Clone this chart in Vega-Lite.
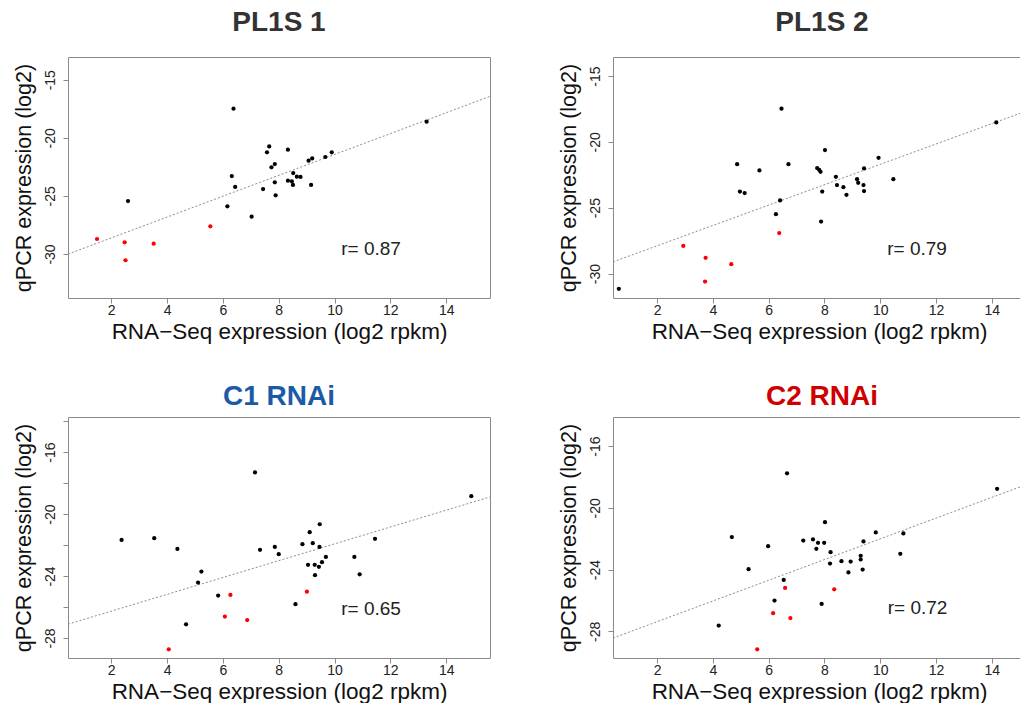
{
  "$schema": "https://vega.github.io/schema/vega-lite/v6.json",
  "background": "white",
  "padding": {"left": 12, "top": 8, "right": 0, "bottom": 0},
  "columns": 2,
  "spacing": {"row": 39, "column": 64},
  "datasets": {
    "p1": [
      {"x": 6.38, "y": -17.49, "type": "other"},
      {"x": 13.30, "y": -18.61, "type": "other"},
      {"x": 7.66, "y": -20.74, "type": "other"},
      {"x": 7.58, "y": -21.25, "type": "other"},
      {"x": 8.33, "y": -21.02, "type": "other"},
      {"x": 9.90, "y": -21.25, "type": "other"},
      {"x": 9.67, "y": -21.65, "type": "other"},
      {"x": 9.20, "y": -21.77, "type": "other"},
      {"x": 9.07, "y": -21.97, "type": "other"},
      {"x": 7.86, "y": -22.26, "type": "other"},
      {"x": 7.74, "y": -22.54, "type": "other"},
      {"x": 6.32, "y": -23.29, "type": "other"},
      {"x": 8.52, "y": -23.03, "type": "other"},
      {"x": 8.65, "y": -23.35, "type": "other"},
      {"x": 8.78, "y": -23.37, "type": "other"},
      {"x": 7.86, "y": -23.83, "type": "other"},
      {"x": 8.33, "y": -23.69, "type": "other"},
      {"x": 8.47, "y": -23.75, "type": "other"},
      {"x": 8.51, "y": -24.06, "type": "other"},
      {"x": 9.16, "y": -24.06, "type": "other"},
      {"x": 6.44, "y": -24.23, "type": "other"},
      {"x": 7.44, "y": -24.41, "type": "other"},
      {"x": 7.89, "y": -24.95, "type": "other"},
      {"x": 2.60, "y": -25.44, "type": "other"},
      {"x": 6.16, "y": -25.90, "type": "other"},
      {"x": 7.03, "y": -26.79, "type": "other"},
      {"x": 1.49, "y": -28.71, "type": "target"},
      {"x": 2.48, "y": -29.00, "type": "target"},
      {"x": 3.52, "y": -29.11, "type": "target"},
      {"x": 5.55, "y": -27.62, "type": "target"},
      {"x": 2.51, "y": -30.54, "type": "target"}
    ],
    "p2": [
      {"x": 0.63, "y": -31.16, "type": "other"},
      {"x": 6.46, "y": -17.48, "type": "other"},
      {"x": 14.16, "y": -18.52, "type": "other"},
      {"x": 8.02, "y": -20.62, "type": "other"},
      {"x": 9.94, "y": -21.21, "type": "other"},
      {"x": 4.87, "y": -21.69, "type": "other"},
      {"x": 6.71, "y": -21.69, "type": "other"},
      {"x": 5.67, "y": -22.17, "type": "other"},
      {"x": 7.74, "y": -21.99, "type": "other"},
      {"x": 7.81, "y": -22.12, "type": "other"},
      {"x": 7.86, "y": -22.27, "type": "other"},
      {"x": 9.42, "y": -22.02, "type": "other"},
      {"x": 8.41, "y": -22.65, "type": "other"},
      {"x": 9.17, "y": -22.83, "type": "other"},
      {"x": 9.21, "y": -23.11, "type": "other"},
      {"x": 10.47, "y": -22.83, "type": "other"},
      {"x": 8.45, "y": -23.28, "type": "other"},
      {"x": 8.68, "y": -23.44, "type": "other"},
      {"x": 9.40, "y": -23.28, "type": "other"},
      {"x": 9.42, "y": -23.74, "type": "other"},
      {"x": 4.97, "y": -23.77, "type": "other"},
      {"x": 5.14, "y": -23.89, "type": "other"},
      {"x": 7.92, "y": -23.77, "type": "other"},
      {"x": 8.79, "y": -24.02, "type": "other"},
      {"x": 6.41, "y": -24.45, "type": "other"},
      {"x": 6.26, "y": -25.49, "type": "other"},
      {"x": 7.88, "y": -26.05, "type": "other"},
      {"x": 2.94, "y": -27.90, "type": "target"},
      {"x": 3.74, "y": -28.81, "type": "target"},
      {"x": 3.72, "y": -30.61, "type": "target"},
      {"x": 4.66, "y": -29.29, "type": "target"},
      {"x": 6.38, "y": -26.93, "type": "target"}
    ],
    "p3": [
      {"x": 2.37, "y": -21.67, "type": "other"},
      {"x": 3.54, "y": -21.56, "type": "other"},
      {"x": 4.37, "y": -22.25, "type": "other"},
      {"x": 7.15, "y": -17.32, "type": "other"},
      {"x": 14.90, "y": -18.85, "type": "other"},
      {"x": 7.33, "y": -22.31, "type": "other"},
      {"x": 7.86, "y": -22.12, "type": "other"},
      {"x": 8.00, "y": -22.59, "type": "other"},
      {"x": 9.47, "y": -20.66, "type": "other"},
      {"x": 9.11, "y": -21.17, "type": "other"},
      {"x": 8.85, "y": -21.95, "type": "other"},
      {"x": 9.22, "y": -21.88, "type": "other"},
      {"x": 9.46, "y": -22.12, "type": "other"},
      {"x": 11.45, "y": -21.60, "type": "other"},
      {"x": 9.69, "y": -22.77, "type": "other"},
      {"x": 10.71, "y": -22.77, "type": "other"},
      {"x": 9.55, "y": -23.11, "type": "other"},
      {"x": 9.05, "y": -23.28, "type": "other"},
      {"x": 9.29, "y": -23.28, "type": "other"},
      {"x": 9.44, "y": -23.41, "type": "other"},
      {"x": 9.30, "y": -23.95, "type": "other"},
      {"x": 10.90, "y": -23.89, "type": "other"},
      {"x": 5.23, "y": -23.71, "type": "other"},
      {"x": 5.11, "y": -24.42, "type": "other"},
      {"x": 5.83, "y": -25.26, "type": "other"},
      {"x": 8.60, "y": -25.82, "type": "other"},
      {"x": 4.68, "y": -27.12, "type": "other"},
      {"x": 6.27, "y": -25.22, "type": "target"},
      {"x": 9.01, "y": -25.01, "type": "target"},
      {"x": 6.07, "y": -26.62, "type": "target"},
      {"x": 6.87, "y": -26.84, "type": "target"},
      {"x": 4.06, "y": -28.73, "type": "target"}
    ],
    "p4": [
      {"x": 6.66, "y": -17.77, "type": "other"},
      {"x": 14.19, "y": -18.77, "type": "other"},
      {"x": 8.02, "y": -20.93, "type": "other"},
      {"x": 4.68, "y": -21.90, "type": "other"},
      {"x": 9.84, "y": -21.60, "type": "other"},
      {"x": 10.83, "y": -21.66, "type": "other"},
      {"x": 7.24, "y": -22.12, "type": "other"},
      {"x": 7.59, "y": -22.05, "type": "other"},
      {"x": 7.77, "y": -22.27, "type": "other"},
      {"x": 7.99, "y": -22.27, "type": "other"},
      {"x": 5.98, "y": -22.49, "type": "other"},
      {"x": 7.71, "y": -22.66, "type": "other"},
      {"x": 8.22, "y": -22.88, "type": "other"},
      {"x": 9.40, "y": -22.18, "type": "other"},
      {"x": 10.72, "y": -22.98, "type": "other"},
      {"x": 9.30, "y": -23.11, "type": "other"},
      {"x": 9.30, "y": -23.35, "type": "other"},
      {"x": 8.61, "y": -23.46, "type": "other"},
      {"x": 8.94, "y": -23.48, "type": "other"},
      {"x": 8.20, "y": -23.61, "type": "other"},
      {"x": 5.28, "y": -23.98, "type": "other"},
      {"x": 9.37, "y": -24.00, "type": "other"},
      {"x": 8.86, "y": -24.19, "type": "other"},
      {"x": 6.54, "y": -24.67, "type": "other"},
      {"x": 6.21, "y": -26.01, "type": "other"},
      {"x": 7.90, "y": -26.23, "type": "other"},
      {"x": 4.21, "y": -27.63, "type": "other"},
      {"x": 6.59, "y": -25.19, "type": "target"},
      {"x": 8.35, "y": -25.28, "type": "target"},
      {"x": 6.16, "y": -26.83, "type": "target"},
      {"x": 6.78, "y": -27.14, "type": "target"},
      {"x": 5.59, "y": -29.17, "type": "target"}
    ],
    "l1": [{"x": 0.45, "y": -30.01}, {"x": 15.57, "y": -16.43}],
    "l2": [{"x": 0.42, "y": -29.12}, {"x": 15.19, "y": -17.69}],
    "l3": [{"x": 0.45, "y": -27.11}, {"x": 15.57, "y": -18.90}],
    "l4": [{"x": 0.42, "y": -28.44}, {"x": 15.19, "y": -18.53}],
    "r": [
      {"panel": 1, "x": 10.24, "y": -29.57, "label": "r= 0.87"},
      {"panel": 2, "x": 10.25, "y": -28.10, "label": "r= 0.79"},
      {"panel": 3, "x": 10.24, "y": -26.12, "label": "r= 0.65"},
      {"panel": 4, "x": 10.27, "y": -26.51, "label": "r= 0.72"}
    ]
  },
  "concat": [
    {
      "width": 422, "height": 241,
      "title": {"text": "PL1S 1", "color": "#333333", "offset": 20},
      "encoding": {
        "x": {"field": "x", "type": "quantitative", "scale": {"domain": [0.45, 15.57], "nice": false, "zero": false},
              "axis": {"values": [2, 4, 6, 8, 10, 12, 14]}, "title": "RNA−Seq expression (log2 rpkm)"},
        "y": {"field": "y", "type": "quantitative", "scale": {"domain": [-33.79, -13.04], "nice": false, "zero": false},
              "axis": {"values": [-15, -20, -25, -30]}, "title": "qPCR expression (log2)"}
      },
      "layer": [
        {"data": {"name": "l1"}, "mark": {"type": "line", "color": "#8c8c8c", "strokeDash": [2, 2], "strokeWidth": 1}},
        {"data": {"name": "p1"}, "mark": {"type": "circle", "size": 18, "opacity": 1},
         "encoding": {"color": {"field": "type", "type": "nominal", "scale": {"domain": ["other", "target"], "range": ["#000000", "#ff0000"]}, "legend": null}}},
        {"data": {"name": "r"}, "transform": [{"filter": "datum.panel === 1"}], "mark": {"type": "text", "align": "left", "baseline": "middle", "fontSize": 19, "color": "#222222"},
         "encoding": {"text": {"field": "label"}}}
      ]
    },
    {
      "width": 412, "height": 241,
      "title": {"text": "PL1S 2", "color": "#333333", "dx": 3, "offset": 20},
      "encoding": {
        "x": {"field": "x", "type": "quantitative", "scale": {"domain": [0.42, 15.19], "nice": false, "zero": false},
              "axis": {"values": [2, 4, 6, 8, 10, 12, 14]}, "title": "RNA−Seq expression (log2 rpkm)"},
        "y": {"field": "y", "type": "quantitative", "scale": {"domain": [-31.86, -13.55], "nice": false, "zero": false},
              "axis": {"values": [-15, -20, -25, -30]}, "title": "qPCR expression (log2)"}
      },
      "layer": [
        {"data": {"name": "l2"}, "mark": {"type": "line", "color": "#8c8c8c", "strokeDash": [2, 2], "strokeWidth": 1}},
        {"data": {"name": "p2"}, "mark": {"type": "circle", "size": 18, "opacity": 1},
         "encoding": {"color": {"field": "type", "type": "nominal", "scale": {"domain": ["other", "target"], "range": ["#000000", "#ff0000"]}, "legend": null}}},
        {"data": {"name": "r"}, "transform": [{"filter": "datum.panel === 2"}], "mark": {"type": "text", "align": "left", "baseline": "middle", "fontSize": 19, "color": "#222222"},
         "encoding": {"text": {"field": "label"}}}
      ]
    },
    {
      "width": 422, "height": 241,
      "title": {"text": "C1 RNAi", "color": "#1a5aa6", "offset": 6},
      "encoding": {
        "x": {"field": "x", "type": "quantitative", "scale": {"domain": [0.45, 15.57], "nice": false, "zero": false},
              "axis": {"values": [2, 4, 6, 8, 10, 12, 14]}, "title": "RNA−Seq expression (log2 rpkm)"},
        "y": {"field": "y", "type": "quantitative", "scale": {"domain": [-29.29, -13.74], "nice": false, "zero": false},
              "axis": {"values": [-14, -16, -18, -20, -22, -24, -26, -28], "labelExpr": "datum.value % 4 === 0 ? '' + datum.value : ''"}, "title": "qPCR expression (log2)"}
      },
      "layer": [
        {"data": {"name": "l3"}, "mark": {"type": "line", "color": "#8c8c8c", "strokeDash": [2, 2], "strokeWidth": 1}},
        {"data": {"name": "p3"}, "mark": {"type": "circle", "size": 18, "opacity": 1},
         "encoding": {"color": {"field": "type", "type": "nominal", "scale": {"domain": ["other", "target"], "range": ["#000000", "#ff0000"]}, "legend": null}}},
        {"data": {"name": "r"}, "transform": [{"filter": "datum.panel === 3"}], "mark": {"type": "text", "align": "left", "baseline": "middle", "fontSize": 19, "color": "#222222"},
         "encoding": {"text": {"field": "label"}}}
      ]
    },
    {
      "width": 412, "height": 241,
      "title": {"text": "C2 RNAi", "color": "#d00000", "dx": 3, "offset": 6},
      "encoding": {
        "x": {"field": "x", "type": "quantitative", "scale": {"domain": [0.42, 15.19], "nice": false, "zero": false},
              "axis": {"values": [2, 4, 6, 8, 10, 12, 14]}, "title": "RNA−Seq expression (log2 rpkm)"},
        "y": {"field": "y", "type": "quantitative", "scale": {"domain": [-29.73, -14.12], "nice": false, "zero": false},
              "axis": {"values": [-16, -20, -24, -28]}, "title": "qPCR expression (log2)"}
      },
      "layer": [
        {"data": {"name": "l4"}, "mark": {"type": "line", "color": "#8c8c8c", "strokeDash": [2, 2], "strokeWidth": 1}},
        {"data": {"name": "p4"}, "mark": {"type": "circle", "size": 18, "opacity": 1},
         "encoding": {"color": {"field": "type", "type": "nominal", "scale": {"domain": ["other", "target"], "range": ["#000000", "#ff0000"]}, "legend": null}}},
        {"data": {"name": "r"}, "transform": [{"filter": "datum.panel === 4"}], "mark": {"type": "text", "align": "left", "baseline": "middle", "fontSize": 19, "color": "#222222"},
         "encoding": {"text": {"field": "label"}}}
      ]
    }
  ],
  "config": {
    "font": "Liberation Sans",
    "view": {"stroke": "#8a8a8a", "strokeWidth": 1},
    "axis": {
      "grid": false, "domain": false, "tickColor": "#8a8a8a", "tickSize": 5,
      "labelFontSize": 14, "labelColor": "#222222", "titleColor": "#111111", "titleFontWeight": "normal",
      "labelExpr": "'' + datum.value"
    },
    "axisX": {"titleFontSize": 22.5, "labelPadding": 0, "titlePadding": 3},
    "axisY": {"titleFontSize": 21.5, "labelAngle": -90, "labelAlign": "center", "labelBaseline": "bottom", "labelPadding": 6, "titlePadding": 8},
    "title": {"fontSize": 28, "fontWeight": "bold", "anchor": "middle"}
  }
}
